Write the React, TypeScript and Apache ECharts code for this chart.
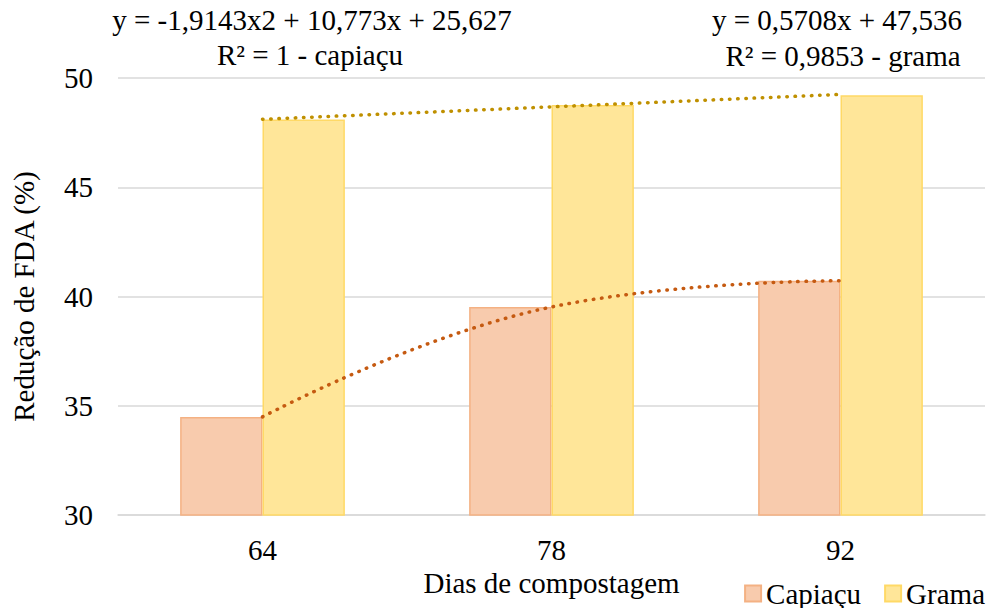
import React, { useEffect, useRef } from "react";
import * as echarts from "echarts";

const categories = ["64", "78", "92"];
const capiacu = [34.49, 39.52, 40.72];
const grama = [48.1, 48.76, 49.21];
const capiacuTrend = [34.49, 39.52, 40.72];
const gramaTrend = [48.11, 48.68, 49.25];
const eqCapiacu = ["y = -1,9143x2 + 10,773x + 25,627", "R² = 1 - capiaçu"];
const eqGrama = ["y = 0,5708x + 47,536", "R² = 0,9853 - grama"];

const FONT = "Liberation Serif";
const FS = 29;

export default function App() {
  const ref = useRef<HTMLDivElement>(null);
  useEffect(() => {
    const chart = echarts.init(ref.current!, undefined, { renderer: "svg" });
    const txt = { fontFamily: FONT, fontSize: FS, color: "#000" };
    const gtext = (text: string, x: number, y: number) => ({
      type: "text",
      x,
      y,
      style: { text, fontFamily: FONT, fontSize: FS, fill: "#000", align: "center", verticalAlign: "middle" },
    });
    chart.setOption({
      animation: false,
      grid: { left: 118, right: 3, top: 78, bottom: 93, containLabel: false },
      legend: {
        data: ["Capiaçu", "Grama"],
        right: 3,
        bottom: 0,
        padding: 0,
        icon: "rect",
        itemWidth: 16,
        itemHeight: 16,
        itemGap: 23,
        textStyle: txt,
      },
      xAxis: {
        type: "category",
        data: categories,
        name: "Dias de compostagem",
        nameLocation: "middle",
        nameGap: 48,
        nameTextStyle: txt,
        axisLine: { lineStyle: { color: "#d9d9d9", width: 1.5 } },
        axisTick: { show: false },
        axisLabel: { ...txt, margin: 20 },
      },
      yAxis: {
        type: "value",
        min: 30,
        max: 50,
        interval: 5,
        name: "Redução de FDA (%)",
        nameLocation: "middle",
        nameGap: 80,
        nameTextStyle: txt,
        axisLine: { show: false },
        axisTick: { show: false },
        axisLabel: { ...txt, margin: 25 },
        splitLine: { lineStyle: { color: "#d9d9d9", width: 1.5 } },
      },
      series: [
        {
          name: "Capiaçu",
          type: "bar",
          data: capiacu,
          barGap: "0%",
          barCategoryGap: "43%",
          itemStyle: { color: "#F8CBAD", borderColor: "#F4B183", borderWidth: 1.5 },
        },
        {
          name: "Grama",
          type: "bar",
          data: grama,
          itemStyle: { color: "#FFE699", borderColor: "#FFD966", borderWidth: 1.5 },
        },
        {
          name: "trendCapiacu",
          type: "line",
          data: capiacuTrend,
          smooth: 0.45,
          symbol: "none",
          z: 5,
          lineStyle: { color: "#C55A11", width: 3.5, type: [0.5, 7.7], cap: "round" },
        },
        {
          name: "trendGrama",
          type: "line",
          data: gramaTrend,
          symbol: "none",
          z: 5,
          lineStyle: { color: "#BF9000", width: 3.5, type: [0.5, 7.7], cap: "round" },
        },
      ],
      graphic: [
        gtext(eqCapiacu[0], 312, 20),
        gtext(eqCapiacu[1], 310, 55),
        gtext(eqGrama[0], 837, 20),
        gtext(eqGrama[1], 843, 56),
      ],
    });
    return () => chart.dispose();
  }, []);
  return <div ref={ref} style={{ width: 988, height: 608, position: "absolute", left: 0, top: 0 }} />;
}
